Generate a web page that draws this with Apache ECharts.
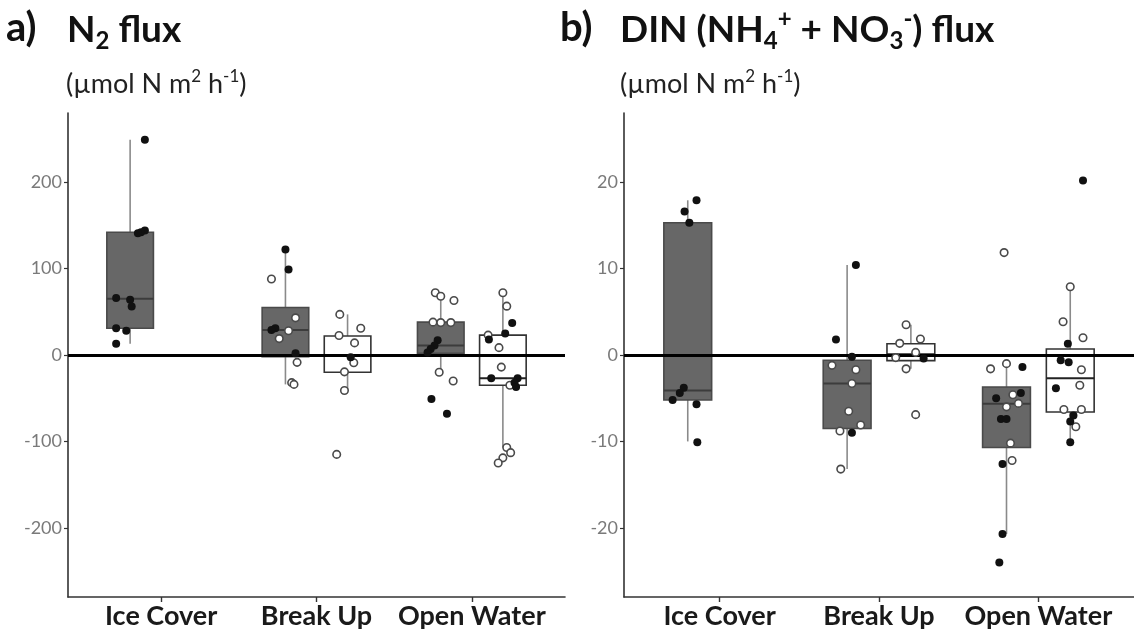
<!DOCTYPE html>
<html>
<head>
<meta charset="utf-8">
<script src="https://cdn.jsdelivr.net/npm/echarts@6/dist/echarts.min.js"></script>
<style>
  html, body { margin: 0; padding: 0; background: #fff; }
  #chart { width: 1134px; height: 634px; }
</style>
</head>
<body>
<div id="chart"></div>
<script>
// ---------------- DATA ----------------
const categories = ['Ice Cover', 'Break Up', 'Open Water'];
const yTicksN2 = [-200, -100, 0, 100, 200];
const yTicksDIN = [-20, -10, 0, 10, 20];

// Box statistics per category: [min, Q1, median, Q3, max]; null = no box
const n2BoxGray  = [[13, 31, 65, 142, 249], [-34, -2, 29, 55, 122], [-20, 2, 11, 38, 72]];
const n2BoxWhite = [null, [-41, -20, -1, 22, 47], [-107, -35, -27, 23, 72]];
const dinBoxGray  = [[-10, -5.2, -4.1, 15.3, 17.9], [-13.2, -8.5, -3.3, -0.6, 10.4], [-20.7, -10.7, -5.65, -3.7, -1]];
const dinBoxWhite = [null, [-1.6, -0.65, 0.1, 1.3, 3.5], [-10.1, -6.6, -2.7, 0.7, 7.9]];

// Individual observations: [value, jitter (category units), filled (1) / open (0)]
const n2PtsGray = [
  [[249,0.095,1],[144,0.095,1],[142,0.07,1],[141,0.05,1],[66,-0.09,1],[64,0,1],[56,0.01,1],[31,-0.09,1],[28,-0.025,1],[13,-0.09,1]],
  [[122,0,1],[99,0.02,1],[88,-0.09,0],[43,0.065,0],[31,-0.065,1],[29,-0.09,1],[28,0.02,0],[19,-0.04,0],[2,0.065,1],[-8.5,0.075,0],[-32,0.04,0],[-34,0.055,0]],
  [[72,-0.035,0],[68,0,0],[63,0.085,0],[38,-0.05,0],[37.5,0,0],[37.5,0.065,0],[17,-0.02,1],[11,-0.04,1],[7,-0.065,1],[3,-0.085,1],[-20,-0.01,0],[-30,0.08,0],[-51,-0.06,1],[-68,0.04,1]]
];
const n2PtsWhite = [
  [],
  [[47,-0.05,0],[31,0.085,0],[22.5,-0.055,0],[14,0.045,0],[-2.5,0.02,1],[-9,0.04,0],[-19.5,-0.02,0],[-41,-0.02,0],[-115,-0.07,0]],
  [[72,0,0],[56.5,0.025,0],[37,0.06,1],[25,0.015,1],[23,-0.095,0],[18,-0.09,1],[8.5,-0.025,0],[-14,-0.01,0],[-27,-0.075,1],[-27,0.095,1],[-32,0.075,1],[-37,0.085,1],[-35,0.045,0],[-107,0.025,0],[-113,0.05,0],[-119,0,0],[-125,-0.03,0]]
];
const dinPtsGray = [
  [[17.9,0.055,1],[16.6,-0.02,1],[15.3,0.01,1],[-3.8,-0.025,1],[-4.4,-0.05,1],[-5.2,-0.095,1],[-5.7,0.055,1],[-10.1,0.06,1]],
  [[10.4,0.055,1],[1.8,-0.07,1],[-0.2,0.03,1],[-1.2,-0.095,0],[-1.7,0.055,0],[-3.3,0.03,0],[-6.5,0.01,0],[-8.1,0.085,0],[-8.8,-0.045,0],[-9,0.03,1],[-13.2,-0.04,0]],
  [[11.85,-0.015,0],[-1.6,-0.1,0],[-1,0,0],[-1.4,0.1,1],[-5,-0.065,1],[-4.6,0.04,0],[-4.4,0.09,1],[-5.6,0.075,0],[-6,0,0],[-7.4,-0.035,1],[-7.4,0,1],[-10.2,0.025,0],[-12.6,-0.025,1],[-12.2,0.035,0],[-20.7,-0.025,1],[-24,-0.045,1]]
];
const dinPtsWhite = [
  [],
  [[3.5,-0.03,0],[1.85,0.06,0],[1.35,-0.07,0],[0.3,0.03,0],[-0.4,0.08,1],[-0.3,-0.095,0],[-1.6,-0.03,0],[-6.9,0.03,0]],
  [[20.2,0.08,1],[7.9,0,0],[3.85,-0.045,0],[2,0.08,0],[1.3,-0.015,1],[-0.6,-0.06,1],[-0.85,-0.01,1],[-1.7,0.07,0],[-3.5,0.06,0],[-3.85,-0.09,1],[-6.3,-0.04,0],[-6.3,0.07,0],[-7,0.02,1],[-7.7,0,1],[-8.3,0.035,0],[-10.1,0,1]]
];

// ---------------- STYLE / LAYOUT ----------------
const FONT = 'Lato';
const DODGE = 0.2;       // half distance between dodged boxes (category units)
const BOX_W = 0.3;       // box width (category units)
const GRAY_FILL = '#676767';
const EDGE = '#333333';
const WHISKER = '#8a8a8a';

function renderBox(params, api) {
  const x = api.value(0);
  const pMin = api.coord([x, api.value(1)]);
  const pQ1 = api.coord([x, api.value(2)]);
  const pMed = api.coord([x, api.value(3)]);
  const pQ3 = api.coord([x, api.value(4)]);
  const pMax = api.coord([x, api.value(5)]);
  const half = api.size([BOX_W, 0])[0] / 2;
  const gray = api.value(6) === 1;
  return {
    type: 'group',
    children: [
      { type: 'line', shape: { x1: pMax[0], y1: pMax[1], x2: pQ3[0], y2: pQ3[1] }, style: { stroke: WHISKER, lineWidth: 1.6 } },
      { type: 'line', shape: { x1: pQ1[0], y1: pQ1[1], x2: pMin[0], y2: pMin[1] }, style: { stroke: WHISKER, lineWidth: 1.6 } },
      { type: 'rect', shape: { x: pQ3[0] - half, y: pQ3[1], width: 2 * half, height: pQ1[1] - pQ3[1] },
        style: { fill: gray ? GRAY_FILL : '#ffffff', stroke: gray ? '#4a4a4a' : EDGE, lineWidth: 1.6 } },
      { type: 'line', shape: { x1: pMed[0] - half, y1: pMed[1], x2: pMed[0] + half, y2: pMed[1] },
        style: { stroke: gray ? '#3c3c3c' : '#222', lineWidth: 2 } }
    ]
  };
}

function boxData(gray, white) {
  const out = [];
  gray.forEach((s, i) => { if (s) out.push([i + 1 - DODGE, ...s, 1]); });
  white.forEach((s, i) => { if (s) out.push([i + 1 + DODGE, ...s, 0]); });
  return out;
}
function ptData(gray, white, filled) {
  const out = [];
  gray.forEach((list, i) => list.forEach(p => { if (p[2] === filled) out.push([i + 1 - DODGE + p[1], p[0]]); }));
  white.forEach((list, i) => list.forEach(p => { if (p[2] === filled) out.push([i + 1 + DODGE + p[1], p[0]]); }));
  return out;
}

function panelSeries(idx, bg, bw, pg, pw) {
  return [
    {
      type: 'custom', xAxisIndex: idx, yAxisIndex: idx, z: 2,
      renderItem: renderBox,
      encode: { x: 0, y: [1, 2, 3, 4, 5] },
      data: boxData(bg, bw),
      silent: true,
      markLine: {
        silent: true, symbol: 'none', z: 3, animation: false,
        label: { show: false },
        lineStyle: { color: '#000', width: 2.8, type: 'solid' },
        data: [{ yAxis: 0 }]
      }
    },
    {
      type: 'scatter', xAxisIndex: idx, yAxisIndex: idx, z: 4,
      symbolSize: 7.5,
      itemStyle: { color: '#ffffff', borderColor: '#4a4a4a', borderWidth: 1.6, opacity: 1 },
      data: ptData(pg, pw, 0), silent: true
    },
    {
      type: 'scatter', xAxisIndex: idx, yAxisIndex: idx, z: 5,
      symbolSize: 8,
      itemStyle: { color: '#111111', opacity: 1 },
      data: ptData(pg, pw, 1), silent: true
    }
  ];
}

function xAxisOf(idx) {
  return {
    type: 'value', gridIndex: idx, min: 0.4, max: 3.6,
    axisLine: { show: true, onZero: false, lineStyle: { color: EDGE, width: 1.6 } },
    axisTick: { show: true, customValues: [1, 2, 3], length: 5, lineStyle: { color: EDGE, width: 1.4 } },
    axisLabel: {
      show: true, customValues: [1, 2, 3],
      formatter: v => categories[Math.round(v) - 1],
      fontFamily: FONT, fontWeight: 'bold', fontSize: 27, color: '#1a1a1a', margin: 6
    },
    splitLine: { show: false }
  };
}
function yAxisOf(idx, min, max, ticks) {
  return {
    type: 'value', gridIndex: idx, min: min, max: max,
    axisLine: { show: true, onZero: false, lineStyle: { color: EDGE, width: 1.6 } },
    axisTick: { show: true, customValues: ticks, length: 4, lineStyle: { color: EDGE, width: 1.2 } },
    axisLabel: { show: true, customValues: ticks, fontFamily: FONT, fontSize: 18, color: '#7a7a7a', margin: 6 },
    splitLine: { show: false }
  };
}

const titleMain = { fontFamily: FONT, fontWeight: 'bold', fontSize: 37, color: '#111', lineHeight: 46 };
const titleLab  = { fontFamily: FONT, fontWeight: 'bold', fontSize: 40, color: '#111', lineHeight: 46 };
const titleSub  = { fontFamily: FONT, fontWeight: 'bold', fontSize: 24, color: '#111', lineHeight: 24, verticalAlign: 'bottom' };
const titleSup  = { fontFamily: FONT, fontWeight: 'bold', fontSize: 24, color: '#111', lineHeight: 24, verticalAlign: 'top' };
const unitMain = { fontFamily: FONT, fontWeight: 'normal', fontSize: 27, color: '#222', lineHeight: 32 };
const unitSup  = { fontFamily: FONT, fontWeight: 'normal', fontSize: 17, color: '#222', lineHeight: 22, verticalAlign: 'top' };

const option = {
  animation: false,
  backgroundColor: '#ffffff',
  title: [
    { text: '{l|a)}', left: 6, top: 5, padding: 0, textStyle: { rich: { l: titleLab } } },
    { text: '{m|N}{s|2}{m| flux}', left: 67, top: 7, padding: 0, textStyle: { rich: { m: titleMain, s: titleSub } } },
    { text: '{t|(µmol N m}{p|2}{t| h}{p|-1}{t|)}', left: 66, top: 68, padding: 0, textStyle: { fontWeight: 'normal', rich: { t: unitMain, p: unitSup } } },
    { text: '{l|b)}', left: 560, top: 5, padding: 0, textStyle: { rich: { l: titleLab } } },
    { text: '{m|DIN (NH}{s|4}{p|+}{m| + NO}{s|3}{p|-}{m|) flux}', left: 620, top: 7, padding: 0,
      textStyle: { rich: { m: titleMain, s: titleSub, p: titleSup } } },
    { text: '{t|(µmol N m}{p|2}{t| h}{p|-1}{t|)}', left: 620, top: 68, padding: 0, textStyle: { fontWeight: 'normal', rich: { t: unitMain, p: unitSup } } }
  ],
  grid: [
    { left: 68, top: 113, width: 497, height: 484 },
    { left: 624, top: 113, width: 510, height: 484 }
  ],
  xAxis: [xAxisOf(0), xAxisOf(1)],
  yAxis: [yAxisOf(0, -280, 280, yTicksN2), yAxisOf(1, -28, 28, yTicksDIN)],
  series: [
    ...panelSeries(0, n2BoxGray, n2BoxWhite, n2PtsGray, n2PtsWhite),
    ...panelSeries(1, dinBoxGray, dinBoxWhite, dinPtsGray, dinPtsWhite)
  ]
};

const chart = echarts.init(document.getElementById('chart'), null, { renderer: 'canvas' });
chart.setOption(option);
</script>
</body>
</html>
